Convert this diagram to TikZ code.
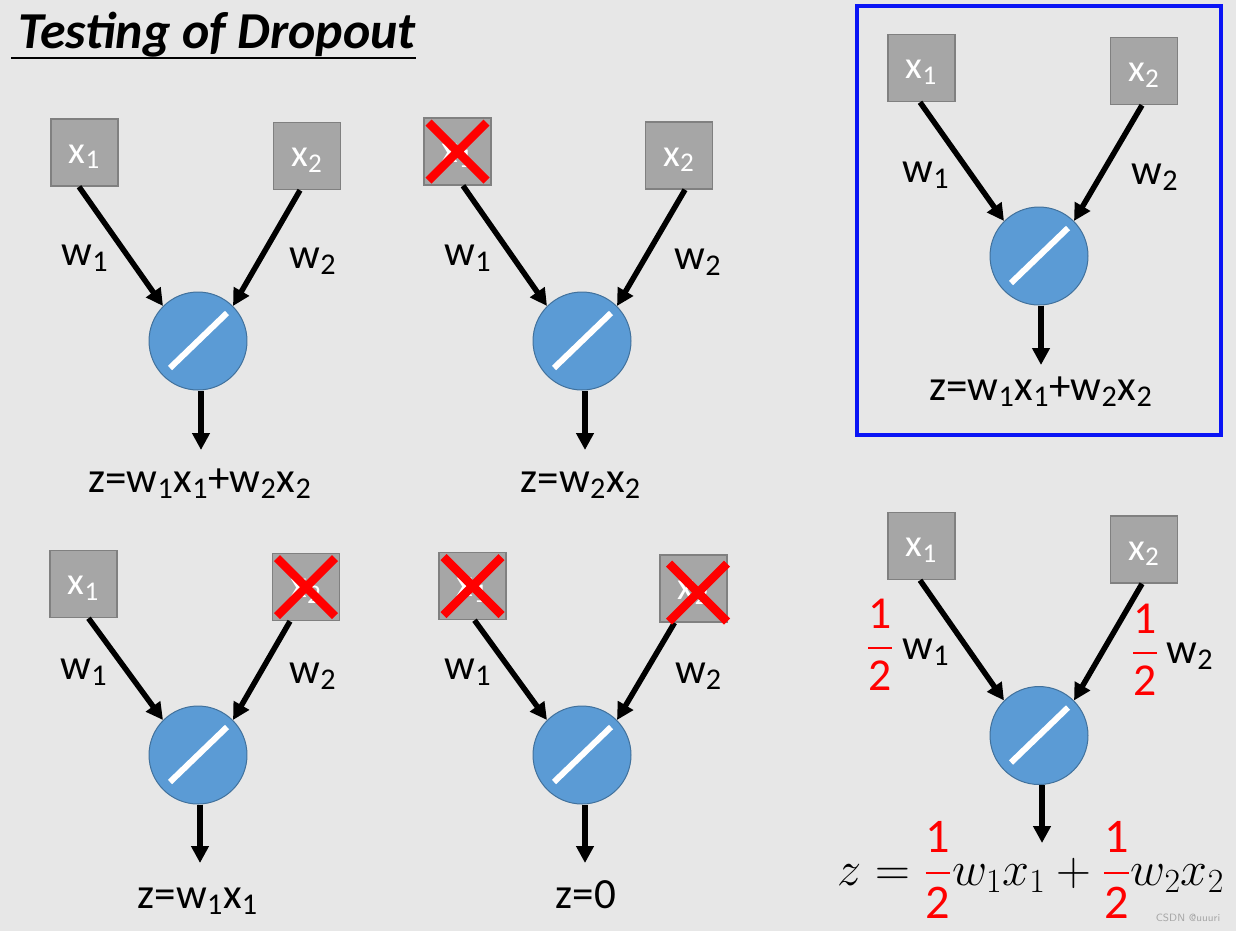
\RequirePackage{fix-cm}
\documentclass[tikz,border=0pt]{standalone}
\usepackage{amsmath}
\usepackage{fontspec}
\setmainfont{Carlito}
\usetikzlibrary{arrows.meta, calc}
\definecolor{cBack}{RGB}{231,231,231}
\definecolor{cBox}{RGB}{166,166,166}
\definecolor{cBoxLine}{RGB}{128,128,128}
\definecolor{cUnit}{RGB}{91,155,213}
\definecolor{cUnitLine}{RGB}{65,113,156}
\definecolor{cFrame}{RGB}{10,20,245}
\tikzset{
	ttl/.style ={anchor=base west, inner sep=0pt, font=\fontsize{29.5}{34}\selectfont\bfseries\itshape},
	inp/.style ={rectangle, draw=cBoxLine, line width=0.03cm, fill=cBox, minimum size=1.34cm, inner sep=0pt, text=white,
		text height=14pt, text depth=2pt, font=\fontsize{22}{26}\selectfont},
	unit/.style={circle, draw=cUnitLine, line width=0.02cm, fill=cUnit, minimum size=1.96cm, inner sep=0pt,
		path picture={\draw[white, line width=0.12cm] (path picture bounding box.center) ++(-28,27) -- ++(57,-55);}},
	wire/.style={-{Triangle[length=0.34cm, width=0.34cm]}, line width=0.11cm},
	lbl/.style ={inner sep=0pt, font=\fontsize{24.5}{29}\selectfont},
	% dropped inputs
	drop/.style={red, line width=0.17cm},
}
\newcommand{\dropx}[1]{\draw[drop] ([shift={(-29,-29)}]#1.center) -- ([shift={(29,29)}]#1.center) ([shift={(-29,29)}]#1.center) -- ([shift={(29,-29)}]#1.center);}
\newcommand{\half}{\genfrac{}{}{1.5pt}{0}{\text{1}}{\text{2}}}
\begin{document}
\begin{tikzpicture}[x=0.02cm, y=-0.02cm]
	\useasboundingbox (0,0) rectangle (1236,931);
	\fill[cBack] (0,0) rectangle (1236,931);
	\node[ttl] (title) at (18,48) {Testing of Dropout};
	\draw[line width=0.05cm] ([xshift=-0.14cm, yshift=-0.02cm]title.south west) -- ([yshift=-0.02cm]title.south east);

	% both inputs kept
	\node[inp] (a1) at (84.5,152.5) {x\textsubscript{1}};
	\node[inp] (a2) at (307,156) {x\textsubscript{2}};
	\node[unit] (n1) at (198,341) {};
	\coordinate (o1) at (201,450);
	\draw[wire] ([xshift=-0.11cm]a1.south) -- (n1.north west);
	\draw[wire] ([xshift=-0.14cm]a2.south) -- (n1.north east);
	\draw[wire] (n1.south -| o1) -- (o1);
	\node[lbl] (w11) at (85,258) {w\textsubscript{1}};
	\node[lbl] (w12) at (313,261) {w\textsubscript{2}};
	\node[lbl, anchor=base] (z1) at (200,492) {z=w\textsubscript{1}x\textsubscript{1}+w\textsubscript{2}x\textsubscript{2}};

	% x1 dropped
	\node[inp] (b1) at (457.5,151.5) {x\textsubscript{1}};
	\node[inp] (b2) at (679,155.5) {x\textsubscript{2}};
	\node[unit] (n2) at (582,341) {};
	\coordinate (o2) at (585,450);
	\draw[wire] ([xshift=0.11cm]b1.south) -- (n2.north west);
	\draw[wire] ([xshift=0.12cm]b2.south) -- (n2.north east);
	\draw[wire] (n2.south -| o2) -- (o2);
	\node[lbl] (w21) at (468,258) {w\textsubscript{1}};
	\node[lbl] (w22) at (698,262) {w\textsubscript{2}};
	\node[lbl, anchor=base] (z2) at (581,492) {z=w\textsubscript{2}x\textsubscript{2}};
	\dropx{b1}

	% x2 dropped
	\node[inp] (c1) at (83.5,584) {x\textsubscript{1}};
	\node[inp] (c2) at (306,587) {x\textsubscript{2}};
	\node[unit] (n3) at (198,755) {};
	\coordinate (o3) at (200,863);
	\draw[wire] ([xshift=0.1cm]c1.south) -- (n3.north west);
	\draw[wire] ([xshift=-0.32cm]c2.south) -- (n3.north east);
	\draw[wire] (n3.south -| o3) -- (o3);
	\node[lbl] (w31) at (84,672) {w\textsubscript{1}};
	\node[lbl] (w32) at (313,676) {w\textsubscript{2}};
	\node[lbl, anchor=base] (z3) at (198,908) {z=w\textsubscript{1}x\textsubscript{1}};
	\dropx{c2}

	% both dropped
	\node[inp] (d1) at (472.5,586) {x\textsubscript{1}};
	\node[inp] (d2) at (693.5,588.5) {x\textsubscript{2}};
	\node[unit] (n4) at (582,755) {};
	\coordinate (o4) at (585,863);
	\draw[wire] ([xshift=0.04cm]d1.south) -- (n4.north west);
	\draw[wire] ([xshift=-0.38cm]d2.south) -- (n4.north east);
	\draw[wire] (n4.south -| o4) -- (o4);
	\node[lbl] (w41) at (468,672) {w\textsubscript{1}};
	\node[lbl] (w42) at (698.5,676) {w\textsubscript{2}};
	\node[lbl, anchor=base] (z4) at (586,908) {z=0};
	\dropx{d1}
	\coordinate (d2x) at ($(d2)+(4.5,4)$);
	\dropx{d2x}

	% training-time unit
	\node[draw=cFrame, line width=0.08cm, minimum width=7.28cm, minimum height=8.58cm, inner sep=0pt] (frame) at (1039,220.5) {};
	\node[inp] (e1) at (921.5,68) {x\textsubscript{1}};
	\node[inp] (e2) at (1144,71) {x\textsubscript{2}};
	\node[unit] (n5) at (1039,256) {};
	\coordinate (o5) at (1041,365);
	\draw[wire] ([xshift=-0.03cm]e1.south) -- (n5.north west);
	\draw[wire] ([xshift=-0.04cm]e2.south) -- (n5.north east);
	\draw[wire] (n5.south -| o5) -- (o5);
	\node[lbl] (w51) at (926,175) {w\textsubscript{1}};
	\node[lbl] (w52) at (1155,177) {w\textsubscript{2}};
	\node[lbl, anchor=base] (z5) at (1041,400) {z=w\textsubscript{1}x\textsubscript{1}+w\textsubscript{2}x\textsubscript{2}};

	% testing: weights times 1/2
	\node[inp] (f1) at (921.5,546) {x\textsubscript{1}};
	\node[inp] (f2) at (1144,549.5) {x\textsubscript{2}};
	\node[unit] (n6) at (1039,735.5) {};
	\coordinate (o6) at (1042,843);
	\draw[wire] ([xshift=-0.03cm]f1.south) -- (n6.north west);
	\draw[wire] ([xshift=-0.04cm]f2.south) -- (n6.north east);
	\draw[wire] (n6.south -| o6) -- (o6);
	\node[lbl] (w61) at (926,652) {w\textsubscript{1}};
	\node[lbl, red, font=\fontsize{26}{31}\selectfont] (h61) at (880,645) {$\half$};
	\node[lbl] (w62) at (1190,656) {w\textsubscript{2}};
	\node[lbl, red, font=\fontsize{26}{31}\selectfont] (h62) at (1145,650) {$\half$};
	\node[lbl, anchor=base, font=\fontsize{27.5}{33}\selectfont] (z6) at (1031,885)
		{$z=\textcolor{red}{\half}w_1x_1+\textcolor{red}{\half}w_2x_2$};

	\node[text=gray!70, font=\fontsize{6}{7}\sffamily, inner sep=0pt] (mark) at (1188,918) {CSDN @uuuri};
\end{tikzpicture}
\end{document}
